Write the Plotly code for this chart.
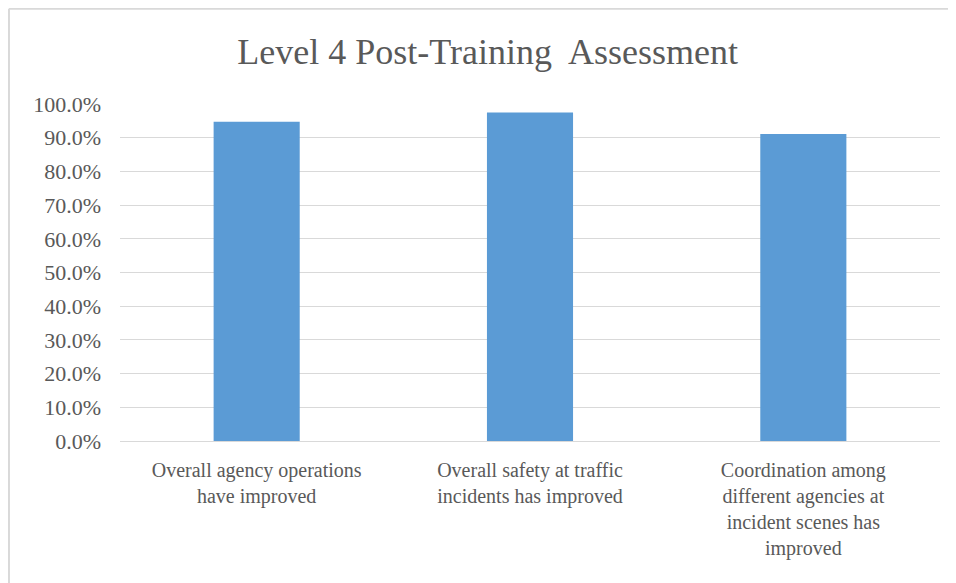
import plotly.graph_objects as go

categories = [
    "Overall agency operations<br>have improved",
    "Overall safety at traffic<br>incidents has improved",
    "Coordination among<br>different agencies at<br>incident scenes has<br>improved",
]
values = [0.947, 0.975, 0.911]

TEXT = "#595959"
GRID = "#D9D9D9"
SERIF = "Liberation Serif, Times New Roman, serif"

fig = go.Figure()
fig.add_trace(
    go.Bar(
        x=categories,
        y=values,
        width=0.315,
        marker=dict(color="#5B9BD5", line=dict(width=0)),
        hovertemplate="%{y:.1%}<extra></extra>",
    )
)

# page body adds an 8px margin, so the figure is 948x575
fig.update_layout(
    width=948,
    height=575,
    margin=dict(l=112, r=16, t=96, b=142),
    paper_bgcolor="white",
    plot_bgcolor="white",
    showlegend=False,
    font=dict(family=SERIF, color=TEXT),
    title=dict(
        text="Level 4 Post-Training  Assessment",
        x=0.506,
        xanchor="center",
        y=0.925,
        yanchor="middle",
        font=dict(family=SERIF, size=36, color=TEXT),
    ),
    # chart frame (only top and left edges visible in the crop)
    shapes=[
        dict(type="line", xref="paper", yref="paper", x0=-0.1354, x1=1.03, y0=1.283, y1=1.283,
             line=dict(color=GRID, width=2)),
        dict(type="line", xref="paper", yref="paper", x0=-0.1354, x1=-0.1354, y0=1.283, y1=-0.45,
             line=dict(color=GRID, width=2)),
    ],
)
fig.update_xaxes(
    showgrid=False,
    showline=False,
    ticks="",
    ticklabelstandoff=15,
    tickfont=dict(family=SERIF, size=20, color=TEXT),
    tickangle=0,
)
fig.update_yaxes(
    range=[0, 1],
    dtick=0.1,
    tickformat=".1%",
    showgrid=True,
    gridcolor=GRID,
    gridwidth=1,
    zeroline=True,
    zerolinecolor=GRID,
    zerolinewidth=1,
    ticks="",
    ticklabelstandoff=18,
    tickfont=dict(family=SERIF, size=22, color=TEXT),
)

fig.write_html("out.html")
